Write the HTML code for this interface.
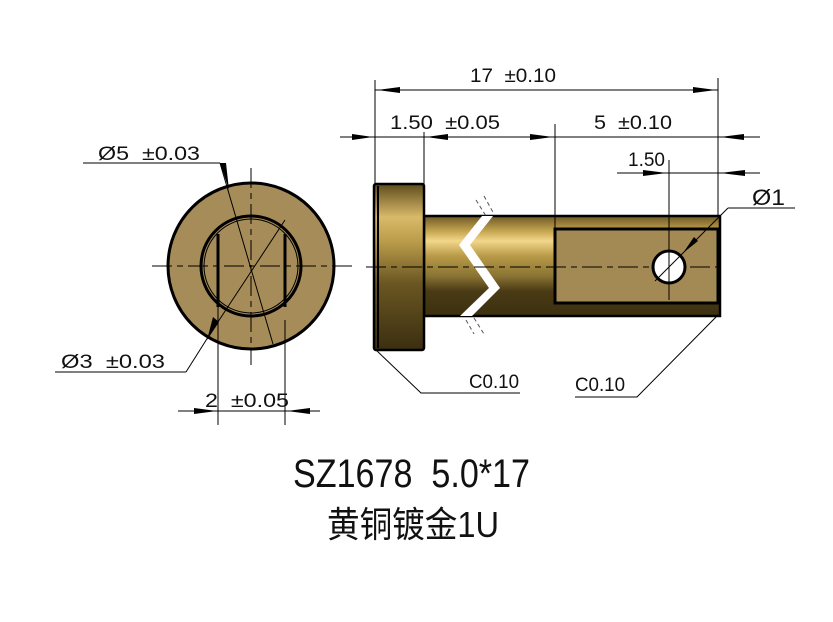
<!DOCTYPE html>
<html><head><meta charset="utf-8"><style>
html,body{margin:0;padding:0;background:#fff;}
svg{display:block}
text{font-family:"Liberation Sans Narrow","Liberation Sans","Noto Sans CJK SC",sans-serif;fill:#111}
</style></head><body>
<svg width="833" height="622" viewBox="0 0 833 622" xmlns="http://www.w3.org/2000/svg">
<defs>
<linearGradient id="brass" x1="0" y1="0" x2="0" y2="1">
<stop offset="0" stop-color="#6d5a26"/>
<stop offset="0.15" stop-color="#c4a450"/>
<stop offset="0.25" stop-color="#f2d68a"/>
<stop offset="0.4" stop-color="#b89a48"/>
<stop offset="0.6" stop-color="#8a7334"/>
<stop offset="0.75" stop-color="#4a3b15"/>
<stop offset="1" stop-color="#3c3010"/>
</linearGradient>
<linearGradient id="brass2" x1="0" y1="0" x2="0" y2="1">
<stop offset="0" stop-color="#5e4c1c"/>
<stop offset="0.2" stop-color="#d9ba6a"/>
<stop offset="0.35" stop-color="#b99b4a"/>
<stop offset="0.6" stop-color="#6a5622"/>
<stop offset="1" stop-color="#3b2f10"/>
</linearGradient>
</defs>

<!-- LEFT VIEW -->
<circle cx="251" cy="266" r="83" fill="#a68c58" stroke="#000" stroke-width="3"/>
<circle cx="251" cy="266" r="50" fill="#a68c58" stroke="#000" stroke-width="3"/>
<circle cx="251" cy="266" r="47" fill="none" stroke="#000" stroke-width="1"/>
<line x1="218" y1="234" x2="218" y2="307" stroke="#000" stroke-width="3"/>
<line x1="285" y1="234" x2="285" y2="307" stroke="#000" stroke-width="3"/>
<line x1="152" y1="266" x2="352" y2="266" stroke="#000" stroke-width="1" stroke-dasharray="20,5,6,5"/>
<line x1="251" y1="168" x2="251" y2="365" stroke="#000" stroke-width="1" stroke-dasharray="20,5,6,5"/>
<line x1="83" y1="163" x2="220" y2="163" stroke="#000" stroke-width="1"/>
<line x1="220" y1="163" x2="273" y2="344" stroke="#000" stroke-width="1"/>
<path d="M220,163 L226,163 L229,190 Z" fill="#000"/>
<text x="98" y="160" font-size="19" textLength="102" lengthAdjust="spacingAndGlyphs">Ø5&#160;&#160;±0.03</text>
<line x1="55" y1="372" x2="186" y2="372" stroke="#000" stroke-width="1"/>
<line x1="186" y1="372" x2="210" y2="334" stroke="#000" stroke-width="1"/>
<line x1="210" y1="334" x2="285" y2="220" stroke="#000" stroke-width="1"/>
<path d="M207,340 L213,317 L219,322 Z" fill="#000"/>
<text x="61" y="368" font-size="19" textLength="104" lengthAdjust="spacingAndGlyphs">Ø3&#160;&#160;±0.03</text>
<line x1="218" y1="307" x2="218" y2="425" stroke="#000" stroke-width="1"/>
<line x1="285" y1="320" x2="285" y2="425" stroke="#000" stroke-width="1"/>
<line x1="178" y1="411" x2="320" y2="411" stroke="#000" stroke-width="1"/>
<path d="M194,408 L217,411 L194,414 Z" fill="#000"/>
<path d="M310,408 L287,411 L310,414 Z" fill="#000"/>
<text x="205" y="407" font-size="19" textLength="84" lengthAdjust="spacingAndGlyphs">2&#160;&#160;±0.05</text>

<!-- FRONT VIEW -->
<rect x="424" y="216" width="296" height="100" fill="url(#brass)" stroke="#000" stroke-width="2.5"/>
<rect x="374" y="184" width="50" height="166" rx="2" fill="url(#brass2)" stroke="#000" stroke-width="2.5"/>
<line x1="378" y1="186" x2="378" y2="348" stroke="#000" stroke-width="2"/>
<rect x="555" y="229" width="163" height="74" fill="#a38a55" stroke="#000" stroke-width="3"/>
<path d="M482,216 L493,216 L470,245 L500,288 L472,316 L460,316 L489,288 L459,245 Z" fill="#fff"/>
<path d="M476,200 L486,216 M484,196 L494,214 M466,320 L474,334 M474,318 L484,334" stroke="#555" stroke-width="1" stroke-dasharray="4,3"/>
<line x1="366" y1="267" x2="726" y2="267" stroke="#000" stroke-width="1" stroke-dasharray="20,5,6,5"/>
<circle cx="669" cy="267" r="16" fill="#fff" stroke="#000" stroke-width="3"/>
<line x1="669" y1="160" x2="669" y2="300" stroke="#000" stroke-width="1"/>
<line x1="655" y1="281" x2="728" y2="208" stroke="#000" stroke-width="1"/>
<path d="M683,253 L694,237 L698,241 Z" fill="#000"/>
<line x1="728" y1="208" x2="795" y2="208" stroke="#000" stroke-width="1"/>
<text x="752" y="205" font-size="22" textLength="33" lengthAdjust="spacingAndGlyphs">Ø1</text>
<line x1="375" y1="80" x2="375" y2="184" stroke="#000" stroke-width="1"/>
<line x1="718" y1="78" x2="718" y2="216" stroke="#000" stroke-width="1"/>
<line x1="424" y1="132" x2="424" y2="184" stroke="#000" stroke-width="1"/>
<line x1="555" y1="124" x2="555" y2="229" stroke="#000" stroke-width="1"/>
<line x1="375" y1="90" x2="718" y2="90" stroke="#000" stroke-width="1"/>
<path d="M400,87 L377,90 L400,93 Z" fill="#000"/>
<path d="M693,87 L716,90 L693,93 Z" fill="#000"/>
<text x="470" y="82" font-size="19" textLength="86" lengthAdjust="spacingAndGlyphs">17&#160;&#160;±0.10</text>
<line x1="340" y1="137" x2="760" y2="137" stroke="#000" stroke-width="1"/>
<path d="M352,134 L373,137 L352,140 Z" fill="#000"/>
<path d="M448,134 L426,137 L448,140 Z" fill="#000"/>
<path d="M530,134 L553,137 L530,140 Z" fill="#000"/>
<path d="M744,134 L720,137 L744,140 Z" fill="#000"/>
<text x="390" y="129" font-size="19" textLength="110" lengthAdjust="spacingAndGlyphs">1.50&#160;&#160;±0.05</text>
<text x="594" y="129" font-size="19" textLength="78" lengthAdjust="spacingAndGlyphs">5&#160;&#160;±0.10</text>
<line x1="617" y1="173" x2="760" y2="173" stroke="#000" stroke-width="1"/>
<path d="M643,170 L667,173 L643,176 Z" fill="#000"/>
<path d="M745,170 L720,173 L745,176 Z" fill="#000"/>
<text x="628" y="166" font-size="19" textLength="37" lengthAdjust="spacingAndGlyphs">1.50</text>
<polyline points="376,350 421,393 520,393" fill="none" stroke="#000" stroke-width="1"/>
<text x="469" y="388" font-size="19" textLength="50" lengthAdjust="spacingAndGlyphs">C0.10</text>
<polyline points="718,315 637,397 575,397" fill="none" stroke="#000" stroke-width="1"/>
<text x="575" y="391" font-size="19" textLength="50" lengthAdjust="spacingAndGlyphs">C0.10</text>

<text x="293" y="487" font-size="40" textLength="237" lengthAdjust="spacingAndGlyphs">SZ1678&#160;&#160;5.0*17</text>
<text x="327" y="537" font-size="36" textLength="172" lengthAdjust="spacingAndGlyphs">黄铜镀金1U</text>
</svg>
</body></html>
